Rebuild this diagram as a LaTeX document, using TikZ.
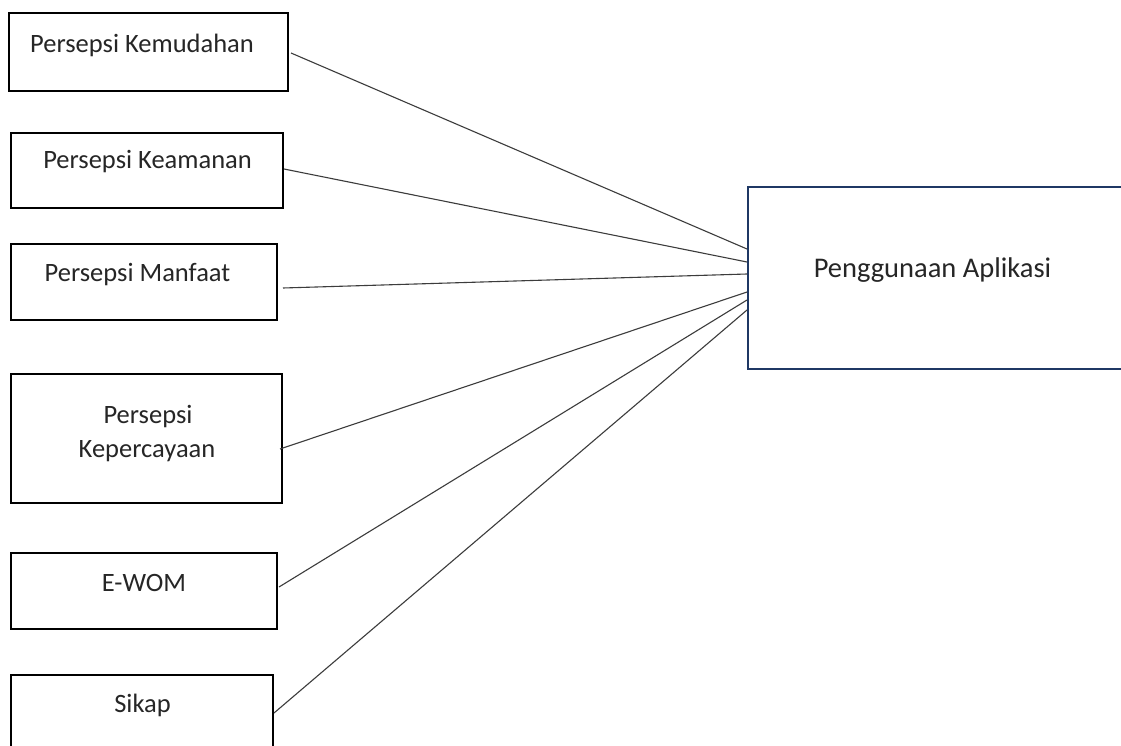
\documentclass[tikz,border=0pt]{standalone}
\usepackage{fontspec}
\setmainfont{Carlito}
\definecolor{navy}{RGB}{31,56,100}
\definecolor{linegray}{RGB}{60,60,60}
\begin{document}
\begin{tikzpicture}[x=1pt,y=-1pt,
  box/.style={draw=black,line width=2pt,rectangle,inner sep=0pt,outer sep=0pt},
  mainbox/.style={draw=navy,line width=2pt,rectangle,inner sep=0pt,outer sep=0pt},
  lbl/.style={anchor=base,inner sep=0pt,font=\fontsize{26.5}{32}\selectfont,text=black!85},
  mlbl/.style={anchor=base,inner sep=0pt,font=\fontsize{28.5}{34}\selectfont,text=black!85},
  conn/.style={draw=linegray,line width=1.1pt}]
\useasboundingbox (0,0) rectangle (1121,746);
\fill[white] (0,0) rectangle (1121,746);
% boxes
\node[box,minimum width=279,minimum height=78] (b1) at (148.5,52) {};
\node[box,minimum width=272,minimum height=75] (b2) at (147,170.5) {};
\node[box,minimum width=266,minimum height=76] (b3) at (144,282) {};
\node[box,minimum width=271,minimum height=129] (b4) at (146.5,438.5) {};
\node[box,minimum width=266,minimum height=76] (b5) at (144,591) {};
\node[box,minimum width=262,minimum height=85] (b6) at (142,717.5) {};
\node[mainbox,minimum width=387,minimum height=182] (r) at (941.5,278) {};
% labels
\node[lbl] (t1) at (142,53) {Persepsi Kemudahan};
\node[lbl] (t2) at (147.5,169) {Persepsi Keamanan};
\node[lbl] (t3) at (137.5,281) {Persepsi Manfaat};
\node[lbl] (t4a) at (148,423) {Persepsi};
\node[lbl] (t4b) at (147,457) {Kepercayaan};
\node[lbl] (t5) at (144,591) {E-WOM};
\node[lbl] (t6) at (142.5,712) {Sikap};
\node[mlbl] (tr) at (932.5,277) {Penggunaan Aplikasi};
% connector ends
\coordinate (s1) at (291,53);
\coordinate (s2) at (284,169);
\coordinate (s3) at (283,288);
\coordinate (s4) at (280,449);
\coordinate (s5) at (279,587);
\coordinate (s6) at (274,713);
\coordinate (e1) at (747,249);
\coordinate (e2) at (747,262);
\coordinate (e3) at (747,274);
\coordinate (e4) at (747,292);
\coordinate (e5) at (747,300);
\coordinate (e6) at (747,310);
\foreach \i in {1,...,6} {\draw[conn] (s\i) -- (e\i);}
\end{tikzpicture}
\end{document}
